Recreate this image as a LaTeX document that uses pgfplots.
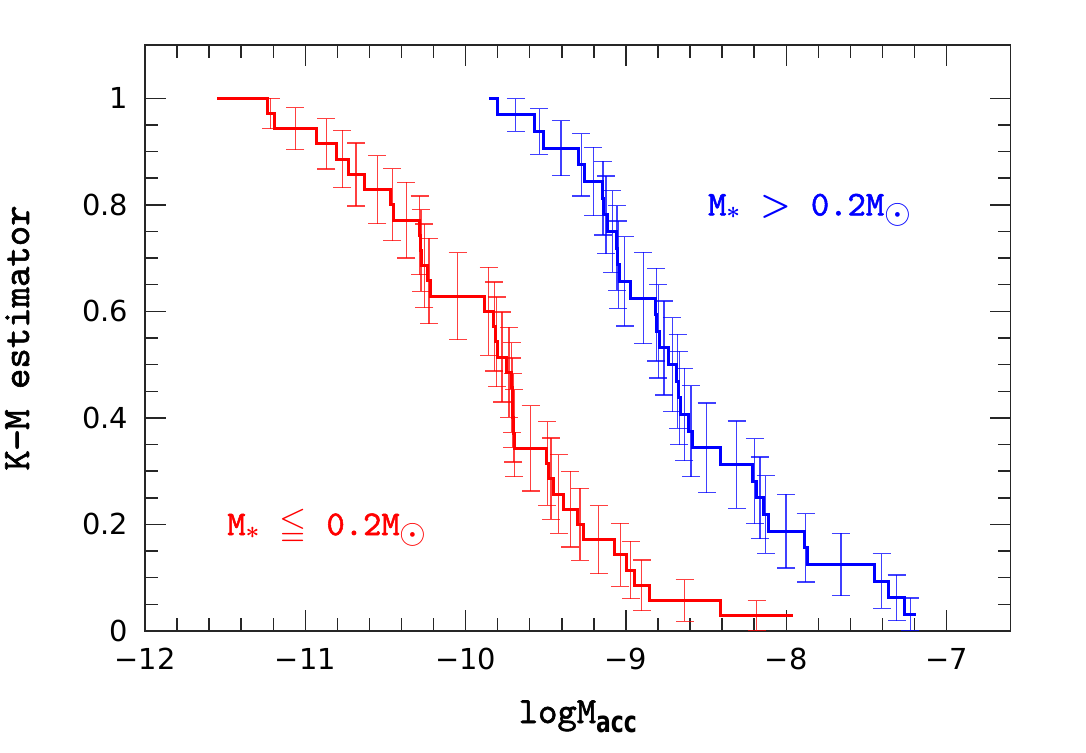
\documentclass[border=0pt]{standalone}
\usepackage{amsmath}
\usepackage{amssymb}
\usepackage{fontspec}
\usepackage{graphicx}
\usepackage{pgfplots}
\usepackage{pgfplotstable}
\pgfplotsset{compat=1.18}
\setmainfont{DejaVu Sans}
\newfontfamily\lblfont[FakeBold=1.5]{lmmono10-regular.otf}
\newfontfamily\subfont{DejaVu Sans}
\newcommand\vs[2]{\scalebox{1}[#1]{#2}}

\pgfplotstableread{
x y
-11.550 1.0000
-11.237 0.9714
-11.194 0.9429
-10.930 0.9143
-10.805 0.8857
-10.732 0.8571
-10.633 0.8286
-10.468 0.8000
-10.448 0.7714
-10.290 0.7429
-10.283 0.7143
-10.275 0.6857
-10.240 0.6571
-10.217 0.6286
-9.882 0.6000
-9.829 0.5714
-9.814 0.5429
-9.800 0.5143
-9.745 0.4857
-9.714 0.4571
-9.710 0.4286
-9.705 0.4000
-9.700 0.3714
-9.694 0.3429
-9.496 0.3143
-9.486 0.2857
-9.450 0.2571
-9.388 0.2286
-9.305 0.2000
-9.267 0.1714
-9.070 0.1429
-8.997 0.1143
-8.945 0.0857
-8.856 0.0571
-8.411 0.0286
-7.958 0.0286
}\redstep

\pgfplotstableread{
x y e
-11.216 0.9714 0.0282
-11.062 0.9429 0.0392
-10.868 0.9143 0.0473
-10.769 0.8857 0.0538
-10.683 0.8571 0.0591
-10.551 0.8286 0.0637
-10.458 0.8000 0.0676
-10.369 0.7714 0.0710
-10.287 0.7429 0.0739
-10.279 0.7143 0.0764
-10.258 0.6857 0.0785
-10.229 0.6571 0.0802
-10.050 0.6286 0.0817
-9.856 0.6000 0.0828
-9.822 0.5714 0.0836
-9.807 0.5429 0.0842
-9.773 0.5143 0.0845
-9.730 0.4857 0.0845
-9.712 0.4571 0.0842
-9.708 0.4286 0.0836
-9.703 0.4000 0.0828
-9.697 0.3714 0.0817
-9.595 0.3429 0.0802
-9.491 0.3143 0.0785
-9.468 0.2857 0.0764
-9.419 0.2571 0.0739
-9.347 0.2286 0.0710
-9.286 0.2000 0.0676
-9.169 0.1714 0.0637
-9.034 0.1429 0.0591
-8.971 0.1143 0.0538
-8.901 0.0857 0.0473
-8.634 0.0571 0.0392
-8.185 0.0286 0.0282
}\rederr

\pgfplotstableread{
x y
-9.855 1.0000
-9.804 0.96875
-9.569 0.9375
-9.513 0.90625
-9.298 0.875
-9.257 0.84375
-9.149 0.8125
-9.138 0.78125
-9.112 0.75
-9.060 0.71875
-9.052 0.6875
-9.043 0.65625
-8.970 0.625
-8.814 0.59375
-8.808 0.5625
-8.789 0.53125
-8.737 0.5
-8.682 0.46875
-8.672 0.4375
-8.662 0.40625
-8.607 0.375
-8.582 0.34375
-8.409 0.3125
-8.208 0.28125
-8.183 0.25
-8.145 0.21875
-8.112 0.1875
-7.889 0.15625
-7.868 0.125
-7.449 0.09375
-7.360 0.0625
-7.262 0.03125
-7.190 0.03125
}\bluestep

\pgfplotstableread{
x y e
-9.687 0.96875 0.0308
-9.541 0.9375 0.0428
-9.406 0.90625 0.0515
-9.278 0.875 0.0585
-9.203 0.84375 0.0642
-9.144 0.8125 0.0690
-9.125 0.78125 0.0731
-9.086 0.75 0.0765
-9.056 0.71875 0.0795
-9.048 0.6875 0.0819
-9.007 0.65625 0.0840
-8.892 0.625 0.0856
-8.811 0.59375 0.0868
-8.799 0.5625 0.0877
-8.763 0.53125 0.0882
-8.710 0.5 0.0884
-8.677 0.46875 0.0882
-8.667 0.4375 0.0877
-8.635 0.40625 0.0868
-8.595 0.375 0.0856
-8.496 0.34375 0.0840
-8.309 0.3125 0.0819
-8.196 0.28125 0.0795
-8.164 0.25 0.0765
-8.129 0.21875 0.0731
-8.001 0.1875 0.0690
-7.879 0.15625 0.0642
-7.659 0.125 0.0585
-7.405 0.09375 0.0515
-7.311 0.0625 0.0428
-7.226 0.03125 0.0308
}\blueerr

\begin{document}
\begin{tikzpicture}
\useasboundingbox (0,0) rectangle (543bp,376.5bp);
\begin{axis}[
  at={(72.5bp,61bp)}, anchor=south west,
  scale only axis, width=432.85bp, height=293bp,
  xmin=-12, xmax=-6.6, ymin=0, ymax=1.1,
  xtick={-12,-11,-10,-9,-8,-7},
  xticklabels={−12,−11,−10,−9,−8,−7},
  ytick={0,0.2,0.4,0.6,0.8,1},
  yticklabels={0,0.2,0.4,0.6,0.8,1},
  minor x tick num=4, minor y tick num=3,
  tick align=inside,
  xtick pos=both, ytick pos=both,
  major tick length=10.5bp, minor tick length=6.3bp,
  every tick/.style={black!85, line width=0.7bp},
  axis line style={line width=0.8bp, black!85},
  tick label style={font=\fontsize{14.5}{14.5}\selectfont},
  xticklabel style={yshift=-5bp},
  yticklabel style={xshift=-5bp},
  xlabel={{\lblfont\fontsize{18.5}{18.5}\selectfont logM}\raisebox{-5bp}{\vs{1.35}{\subfont\bfseries\fontsize{11}{11}\selectfont acc}}},
  xlabel style={at={(axis description cs:0.5,-0.157)}, anchor=base, inner sep=0pt},
  ylabel={\lblfont\fontsize{19.5}{19.5}\selectfont K−M estimator},
  ylabel style={at={(axis description cs:-0.134,0.5)}, anchor=base, inner sep=0pt},
  clip=false,
]
\addplot[draw=none, mark=none, forget plot,
  error bars/.cd, y dir=both, y explicit,
  error bar style={line width=0.65bp, draw=red, opacity=0.75},
  error mark options={rotate=90, mark size=4.5bp, line width=0.65bp, draw=red, opacity=0.75}]
  table[x=x, y=y, y error=e] {\rederr};
\addplot[draw=none, mark=none, forget plot,
  error bars/.cd, y dir=both, y explicit,
  error bar style={line width=0.65bp, draw=blue, opacity=0.75},
  error mark options={rotate=90, mark size=4.5bp, line width=0.65bp, draw=blue, opacity=0.75}]
  table[x=x, y=y, y error=e] {\blueerr};
\addplot[const plot, red, line width=1.5bp, mark=none] table[x=x, y=y] {\redstep};
\addplot[const plot, blue, line width=1.5bp, mark=none] table[x=x, y=y] {\bluestep};
\node[anchor=base west, inner sep=0pt, red] at (axis cs:-11.489,0.180)
  {{\lblfont\fontsize{17.5}{17.5}\selectfont M\raisebox{-1.5bp}{$\scriptstyle\boldsymbol{\ast}$}\hspace{10bp}$\boldsymbol{\leqq}$\hspace{10bp}0.2M}\raisebox{-4bp}{\fontsize{16.5}{16.5}\selectfont$\odot$}};
\node[anchor=base west, inner sep=0pt, blue] at (axis cs:-8.49,0.780)
  {{\lblfont\fontsize{17.5}{17.5}\selectfont M\raisebox{-1.5bp}{$\scriptstyle\boldsymbol{\ast}$}\hspace{10bp}$\boldsymbol{>}$\hspace{10bp}0.2M}\raisebox{-4bp}{\fontsize{16.5}{16.5}\selectfont$\odot$}};
\end{axis}
\end{tikzpicture}
\end{document}
